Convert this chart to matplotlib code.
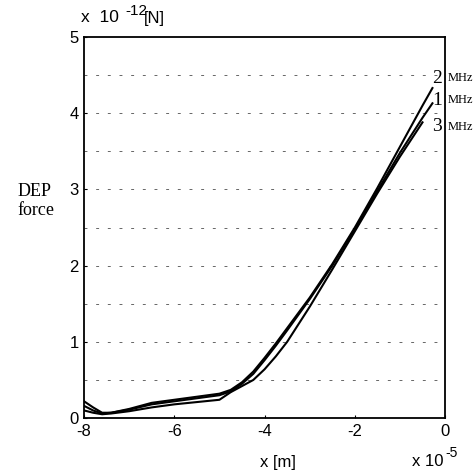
import matplotlib
matplotlib.use("Agg")
import matplotlib.pyplot as plt

# x positions in units of 1e-5 m
x_12 = [-8.0, -7.8, -7.6, -7.4, -7.0, -6.5, -6.0, -5.5, -5.0, -4.75, -4.5, -4.25,
        -4.0, -3.75, -3.5, -3.0, -2.5, -2.0, -1.5, -1.0, -0.5, -0.28]
force_2mhz = [0.22, 0.14, 0.07, 0.07, 0.12, 0.20, 0.24, 0.28, 0.32, 0.37, 0.47, 0.61,
              0.79, 0.98, 1.18, 1.58, 2.02, 2.50, 3.02, 3.56, 4.10, 4.33]
force_1mhz = [0.16, 0.10, 0.06, 0.07, 0.11, 0.18, 0.22, 0.26, 0.30, 0.35, 0.45, 0.58,
              0.76, 0.95, 1.15, 1.56, 2.00, 2.48, 2.98, 3.48, 3.94, 4.13]
x_3 = [-8.0, -7.8, -7.6, -7.4, -7.0, -6.5, -6.0, -5.5, -5.0, -4.75, -4.5, -4.25,
       -4.0, -3.75, -3.5, -3.0, -2.5, -2.0, -1.5, -1.0, -0.5]
force_3mhz = [0.10, 0.07, 0.05, 0.06, 0.09, 0.14, 0.18, 0.21, 0.24, 0.34, 0.42, 0.50,
              0.64, 0.81, 1.00, 1.46, 1.95, 2.45, 2.95, 3.43, 3.88]

freq_labels = ["2", "1", "3"]
label_levels = [4.46, 4.17, 3.82]
grid_levels = [0.5, 1.0, 1.5, 2.0, 2.5, 3.0, 3.5, 4.0, 4.5]
x_ticks = [-8, -6, -4, -2, 0]
y_ticks = [0, 1, 2, 3, 4, 5]

plt.rcParams["font.family"] = ["Liberation Sans", "DejaVu Sans"]

fig = plt.figure(figsize=(4.75, 4.74), dpi=100)
ax = fig.add_axes([0.177, 0.118, 0.760, 0.804])

for g in grid_levels:
    ax.axhline(g, color="0.4", lw=0.7, ls=(0, (3, 9)), zorder=1)

ax.plot(x_12, force_2mhz, color="black", lw=1.5, zorder=3)
ax.plot(x_12, force_1mhz, color="black", lw=1.5, zorder=3)
ax.plot(x_3, force_3mhz, color="black", lw=1.5, zorder=3)

ax.set_xlim(-8, 0)
ax.set_ylim(0, 5)
ax.set_xticks(x_ticks)
ax.set_yticks(y_ticks)
ax.set_xticklabels([str(t) for t in x_ticks])
ax.set_yticklabels([str(t) for t in y_ticks])
ax.tick_params(direction="in", length=2, labelsize=12, pad=4)
for s in ax.spines.values():
    s.set_linewidth(1.3)

serif = ["Liberation Serif", "DejaVu Serif"]
for lab, yv in zip(freq_labels, label_levels):
    ax.text(-0.29, yv, lab, fontsize=14, family=serif, ha="left", va="center",
            clip_on=False, zorder=4)
    fig.text(0.942, 0.118 + 0.804 * yv / 5, "MHz", fontsize=9, family=serif,
             ha="left", va="center")

fig.text(0.170, 0.948, "x  10", fontsize=12.5, ha="left", va="bottom")
fig.text(0.263, 0.962, "-12", fontsize=11, ha="left", va="bottom")
fig.text(0.302, 0.946, "[N]", fontsize=12, ha="left", va="bottom")

fig.text(0.036, 0.575, "DEP\nforce", fontsize=13, family=serif, ha="left",
         va="center", linespacing=1.15)

fig.text(0.585, 0.008, "x [m]", fontsize=12, ha="center", va="bottom")
fig.text(0.868, 0.010, "x 10", fontsize=12, ha="left", va="bottom")
fig.text(0.937, 0.030, "-5", fontsize=10, ha="left", va="bottom")

fig.savefig("out.png", dpi=100)
